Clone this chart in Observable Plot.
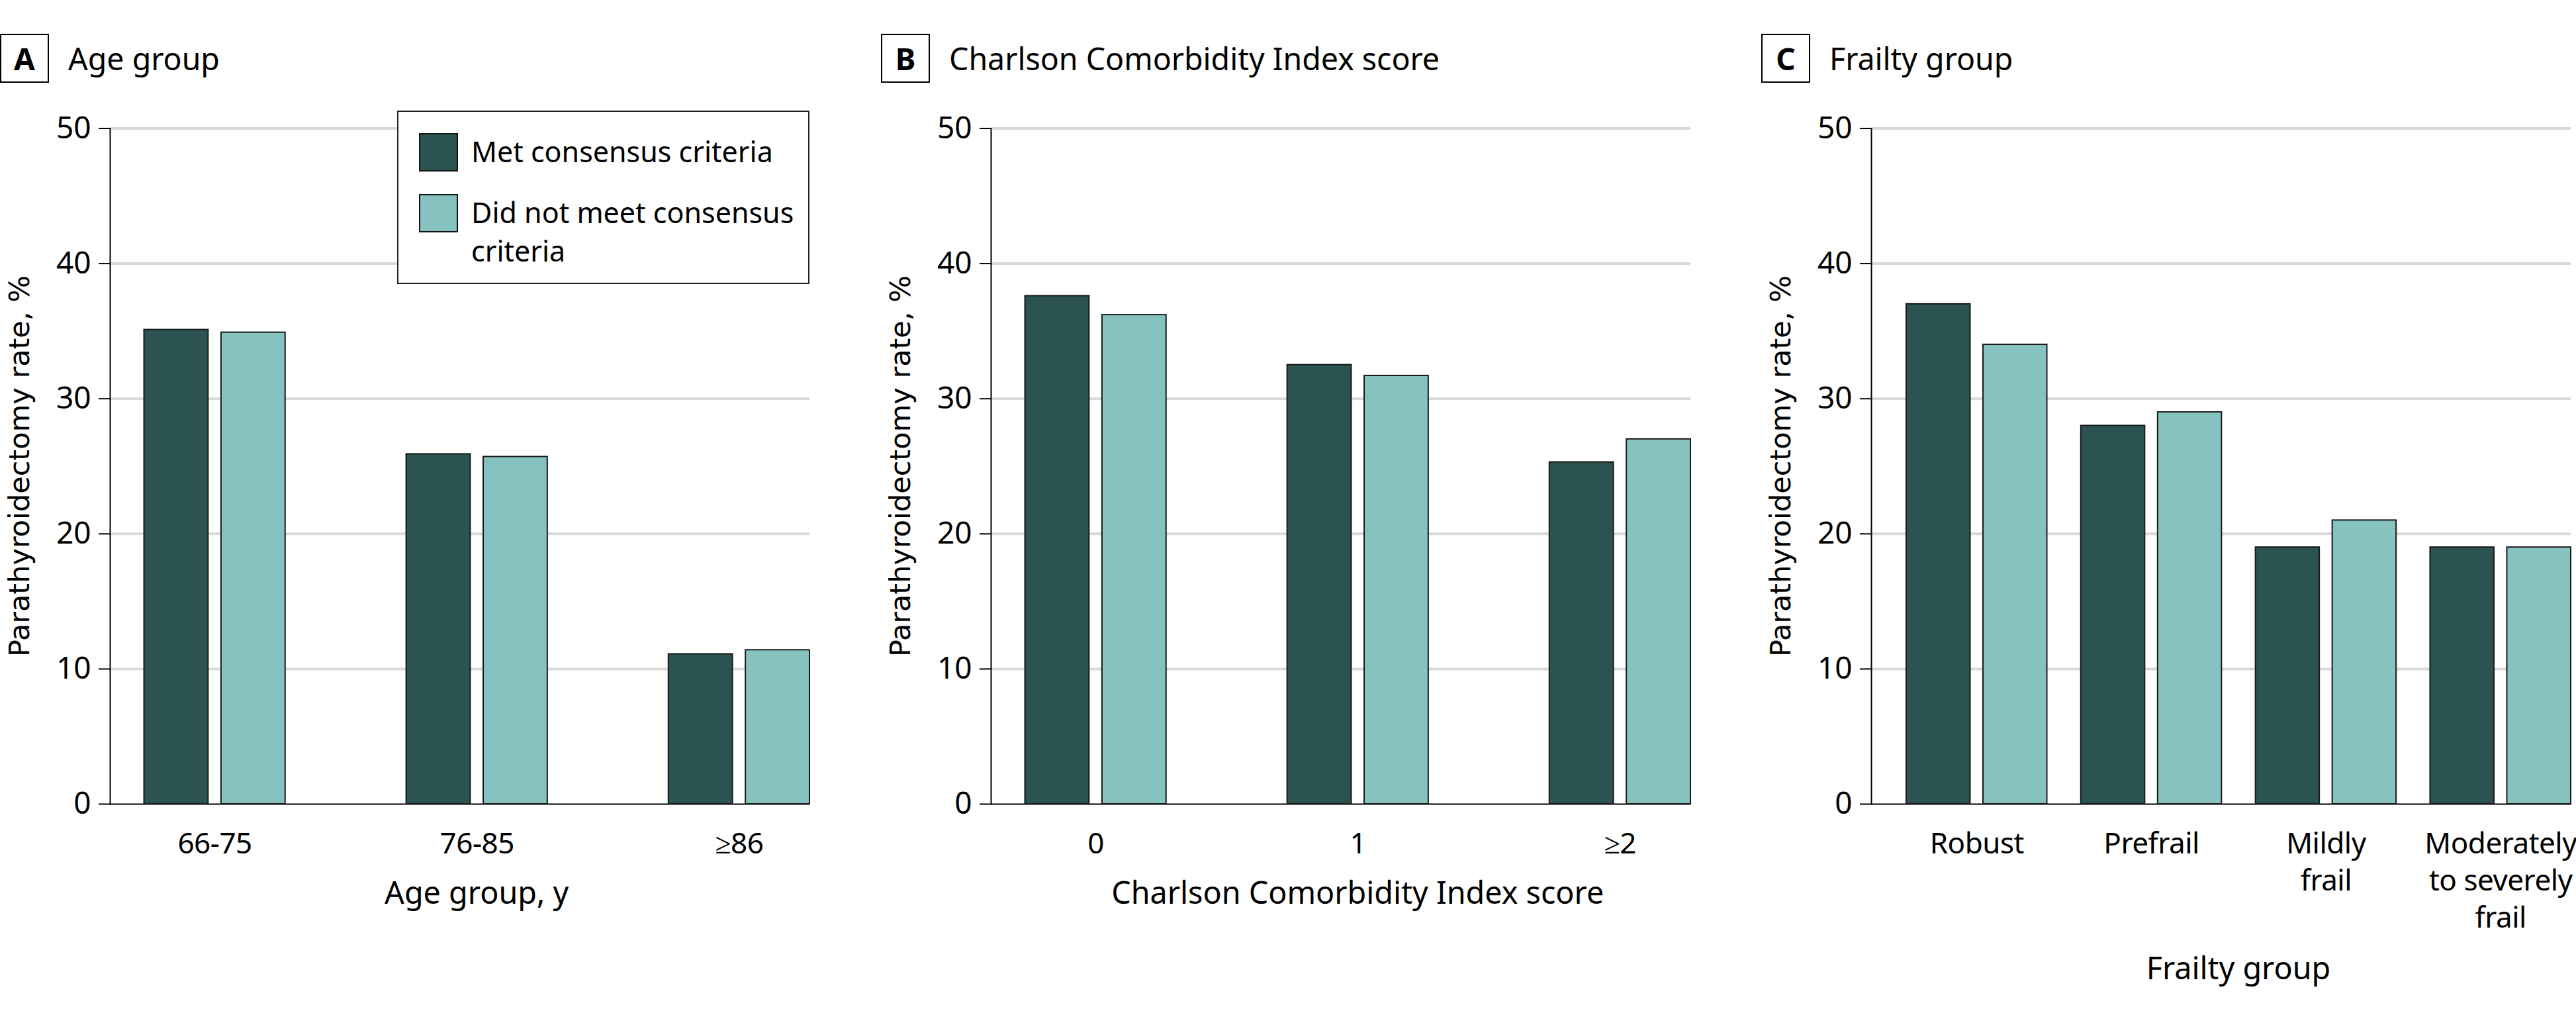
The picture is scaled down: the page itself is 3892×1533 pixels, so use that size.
<!DOCTYPE html>
<html>
<head>
<meta charset="utf-8">
<script src="https://cdn.jsdelivr.net/npm/d3@7"></script>
<script src="https://cdn.jsdelivr.net/npm/@observablehq/plot@0.6"></script>
<style>
  html, body { margin: 0; padding: 0; background: #fff; }
  body { width: 3892px; height: 1533px; position: relative; overflow: hidden; font-family: "Noto Sans", sans-serif; color: #000; }
  .panel { position: absolute; top: 0; height: 1533px; }
  .panel svg { position: absolute; left: 0; top: 0; }
  .badge { position: absolute; left: 0; top: 51px; width: 70px; height: 70px; border: 2px solid #000; display: flex; align-items: center; justify-content: center; font-weight: 700; font-size: 46px; line-height: 1; z-index: 3; }
  .ptitle { position: absolute; left: 103px; top: 51px; height: 74px; line-height: 74px; font-size: 46.5px; white-space: nowrap; z-index: 3; }
  .ylabel { position: absolute; font-family: "DejaVu Sans", sans-serif; font-size: 43px; line-height: 43px; white-space: nowrap; transform: translate(-50%, -50%) rotate(-90deg); z-index: 3; }
  .xtitle { position: absolute; font-size: 46.7px; line-height: 60px; white-space: nowrap; transform: translateX(-50%); z-index: 3; }
  .legend { position: absolute; left: 600px; top: 167px; width: 619px; height: 258px; border: 2px solid #222; background: #fff; z-index: 4; }
  .swatch { position: absolute; left: 31px; width: 55px; height: 54px; border: 2px solid #111; }
  .ltext { position: absolute; left: 110px; width: 500px; font-size: 43px; line-height: 58px; }
</style>
</head>
<body>
<script>
// ---------- data ----------
const seriesNames = ["Met consensus criteria", "Did not meet consensus criteria"];
const seriesColors = ["#2b5352", "#86c3c0"];

const panelLetters = ["A", "B", "C"];
const panelTitles = ["Age group", "Charlson Comorbidity Index score", "Frailty group"];
const xTitles = ["Age group, y", "Charlson Comorbidity Index score", "Frailty group"];
const yTitle = "Parathyroidectomy rate, %";
const yTicks = [0, 10, 20, 30, 40, 50];

const ageGroups = ["66-75", "76-85", "≥86"];
const ageMet = [35.1, 25.9, 11.1];
const ageNotMet = [34.9, 25.7, 11.4];

const cciScores = ["0", "1", "≥2"];
const cciMet = [37.6, 32.5, 25.3];
const cciNotMet = [36.2, 31.7, 27.0];

const frailtyGroups = ["Robust", "Prefrail", "Mildly frail", "Moderately to severely frail"];
const frailtyTickLabels = ["Robust", "Prefrail", "Mildly\nfrail", "Moderately\nto severely\nfrail"];
const frailtyMet = [37, 28, 19, 19];
const frailtyNotMet = [34, 29, 21, 19];

// ---------- layout ----------
const H = 1533;
const M_TOP = 193.5, M_BOTTOM = 319, M_LEFT = 166, FRAME_W = 1057;

const panels = [
  {left: 0, width: 1331, cats: ageGroups, labels: ageGroups, met: ageMet, notMet: ageNotMet, pin: 0.4617, pout: 0.065, legend: true},
  {left: 1331, width: 1331, cats: cciScores, labels: cciScores, met: cciMet, notMet: cciNotMet, pin: 0.4617, pout: 0.065},
  {left: 2661, width: 1231, cats: frailtyGroups, labels: frailtyTickLabels, met: frailtyMet, notMet: frailtyNotMet, pin: 0.1944, pout: 0.1004}
];

panels.forEach((p, i) => {
  const div = document.createElement("div");
  div.className = "panel";
  div.style.left = p.left + "px";
  div.style.width = p.width + "px";
  document.body.appendChild(div);

  const mr = p.width - M_LEFT - FRAME_W;
  const labelOf = new Map(p.cats.map((c, j) => [c, p.labels[j]]));
  const data = p.cats.flatMap((c, j) => [
    {group: c, series: seriesNames[0], value: p.met[j]},
    {group: c, series: seriesNames[1], value: p.notMet[j]}
  ]);
  const common = {
    width: p.width, height: H,
    marginTop: M_TOP, marginBottom: M_BOTTOM, marginLeft: M_LEFT, marginRight: mr,
    style: {fontFamily: "Noto Sans", fontSize: "46px", background: "transparent", color: "#000", overflow: "visible"}
  };

  const bg = Plot.plot({
    ...common,
    x: {type: "band", domain: p.cats, paddingInner: p.pin, paddingOuter: p.pout, align: 1, round: false},
    y: {domain: [0, 50]},
    marks: [
      Plot.ruleY(yTicks.filter(t => t > 0), {stroke: "#d9d9d9", strokeWidth: 4}),
      Plot.axisY({ticks: yTicks, tickSize: 17, tickPadding: 12, fontSize: 46, label: null, strokeWidth: 2}),
      Plot.axisX({tickSize: 0, tickPadding: 34, fontSize: 44, lineHeight: 1.28, tickFormat: d => labelOf.get(d), label: null}),
      Plot.frame({anchor: "left", stroke: "#000", strokeWidth: 2}),
      Plot.ruleY([0], {stroke: "#000", strokeWidth: 2})
    ]
  });
  bg.querySelectorAll('g[aria-label="x-axis tick label"] text').forEach(el => el.style.letterSpacing = "-0.5px");
  div.appendChild(bg);

  const fg = Plot.plot({
    ...common,
    fx: {domain: p.cats, paddingInner: p.pin, paddingOuter: p.pout, align: 1, round: false, axis: null},
    x: {domain: seriesNames, paddingInner: 0.168, paddingOuter: 0, round: false, axis: null},
    y: {domain: [0, 50], axis: null},
    color: {domain: seriesNames, range: seriesColors},
    marks: [
      Plot.barY(data, {fx: "group", x: "series", y: "value", fill: "series", stroke: "#1a1a1a", strokeWidth: 2})
    ]
  });
  div.appendChild(fg);

  // panel badge + title
  const badge = document.createElement("div");
  badge.className = "badge";
  badge.textContent = panelLetters[i];
  div.appendChild(badge);
  const t = document.createElement("div");
  t.className = "ptitle";
  t.textContent = panelTitles[i];
  div.appendChild(t);

  // y title
  const yl = document.createElement("div");
  yl.className = "ylabel";
  yl.textContent = yTitle;
  yl.style.left = "28.5px";
  yl.style.top = ((M_TOP + (H - M_BOTTOM)) / 2) + "px";
  div.appendChild(yl);

  // x title centered on the bar area
  const sx = bg.scale("x");
  const x0 = sx.apply(p.cats[0]);
  const x1 = sx.apply(p.cats[p.cats.length - 1]) + sx.bandwidth;
  const xt = document.createElement("div");
  xt.className = "xtitle";
  xt.textContent = xTitles[i];
  xt.style.left = ((x0 + x1) / 2) + "px";
  const nLines = Math.max(...p.labels.map(s => s.split("\n").length));
  const baseline = 1365 + (nLines - 1) * 57;
  xt.style.top = (baseline - 48) + "px";
  div.appendChild(xt);

  if (p.legend) {
    const lg = document.createElement("div");
    lg.className = "legend";
    seriesNames.forEach((s, k) => {
      const sw = document.createElement("div");
      sw.className = "swatch";
      sw.style.top = (32 + 92 * k) + "px";
      sw.style.background = seriesColors[k];
      lg.appendChild(sw);
      const tx = document.createElement("div");
      tx.className = "ltext";
      tx.style.top = (31 + 92 * k) + "px";
      tx.textContent = s;
      lg.appendChild(tx);
    });
    div.appendChild(lg);
  }
});
</script>
</body>
</html>
